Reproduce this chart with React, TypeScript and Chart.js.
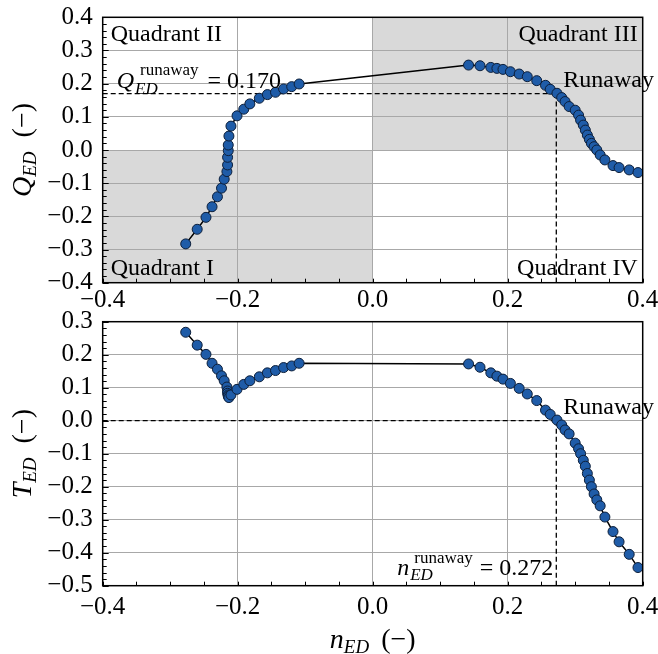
import React, { useEffect, useRef } from "react";
import { Chart, registerables } from "chart.js";

Chart.register(...registerables);

// ---- data ----
const nEDLeft = [-0.277, -0.260, -0.247, -0.238, -0.230, -0.224, -0.220, -0.216, -0.215, -0.215, -0.214, -0.214, -0.213, -0.210, -0.201, -0.191, -0.182, -0.168, -0.156, -0.144, -0.132, -0.120, -0.109];
const QEDLeft = [-0.283, -0.239, -0.203, -0.171, -0.141, -0.115, -0.088, -0.065, -0.045, -0.022, -0.002, 0.015, 0.042, 0.072, 0.103, 0.123, 0.139, 0.156, 0.167, 0.174, 0.184, 0.191, 0.199];
const TEDLeft = [0.268, 0.229, 0.201, 0.174, 0.156, 0.136, 0.121, 0.102, 0.090, 0.083, 0.078, 0.074, 0.070, 0.078, 0.095, 0.110, 0.121, 0.133, 0.145, 0.152, 0.161, 0.166, 0.174];

const nEDRight = [0.142, 0.159, 0.175, 0.184, 0.193, 0.204, 0.217, 0.229, 0.243, 0.256, 0.263, 0.273, 0.280, 0.285, 0.291, 0.300, 0.305, 0.308, 0.312, 0.315, 0.318, 0.321, 0.324, 0.328, 0.332, 0.337, 0.344, 0.356, 0.365, 0.380, 0.393];
const QEDRight = [0.256, 0.254, 0.249, 0.246, 0.243, 0.236, 0.229, 0.221, 0.209, 0.195, 0.183, 0.171, 0.158, 0.146, 0.131, 0.120, 0.105, 0.090, 0.075, 0.060, 0.045, 0.032, 0.020, 0.010, 0.000, -0.015, -0.030, -0.047, -0.053, -0.060, -0.068];
const TEDRight = [0.172, 0.162, 0.145, 0.135, 0.126, 0.113, 0.098, 0.081, 0.061, 0.032, 0.019, 0.002, -0.013, -0.028, -0.040, -0.068, -0.085, -0.100, -0.120, -0.138, -0.160, -0.180, -0.200, -0.222, -0.240, -0.258, -0.292, -0.336, -0.367, -0.405, -0.445];

const runawayN = 0.272;
const runawayQ = 0.170;
const runawayT = 0.0;

const xRange = [-0.4, 0.4];
const qRange = [-0.4, 0.4];
const tRange = [-0.5, 0.3];

const SERIF = '"Liberation Serif", "Times New Roman", serif';
const TICK_FONT = 25;

const fmt = (v: number) => {
  const s = Math.abs(v) < 1e-9 ? "0.0" : Number(v).toFixed(1);
  return s.replace("-", "\u2212");
};

type StackItem = { t: string; font: string; dy: number; dx?: number };
type Seg =
  | { t: string; font: string; dy?: number }
  | { stack: StackItem[] }
  | { gap: number };

function segWidth(ctx: CanvasRenderingContext2D, s: any): number {
  if (s.gap !== undefined) return s.gap;
  if (s.stack) {
    let m = 0;
    for (const p of s.stack) {
      ctx.font = p.font;
      m = Math.max(m, ctx.measureText(p.t).width + (p.dx || 0));
    }
    return m;
  }
  ctx.font = s.font;
  return ctx.measureText(s.t).width;
}

function drawRich(ctx: CanvasRenderingContext2D, segs: Seg[], x: number, y: number, align: "left" | "right" | "center") {
  const widths = segs.map((s) => segWidth(ctx, s));
  const total = widths.reduce((a, b) => a + b, 0);
  let cx = align === "left" ? x : align === "right" ? x - total : x - total / 2;
  ctx.textAlign = "left";
  ctx.textBaseline = "alphabetic";
  ctx.fillStyle = "#000";
  segs.forEach((s: any, i) => {
    if (s.stack) {
      for (const p of s.stack) {
        ctx.font = p.font;
        ctx.fillText(p.t, cx + (p.dx || 0), y + p.dy);
      }
    } else if (s.t !== undefined) {
      ctx.font = s.font;
      ctx.fillText(s.t, cx, y + (s.dy || 0));
    }
    cx += widths[i];
  });
}

type Cfg = {
  ys: number[];
  yRange: number[];
  topPad: number;
  xAxisH: number;
  xTickPad: number;
  yLetter: string;
  shade: boolean;
  refY: number;
  bottomChart: boolean;
};

function makeChart(canvas: HTMLCanvasElement, cfg: Cfg) {
  const nAll = [...nEDLeft, ...nEDRight];
  const pts = nAll.map((x, i) => ({ x, y: cfg.ys[i] }));

  const overlay = {
    id: "overlay",
    beforeDraw(chart: any) {
      const { ctx, chartArea: a, scales } = chart;
      const xs = scales.x, ys = scales.y;
      ctx.save();
      ctx.fillStyle = "#fff";
      ctx.fillRect(0, 0, chart.width, chart.height);
      if (cfg.shade) {
        ctx.fillStyle = "#d9d9d9";
        const x0 = xs.getPixelForValue(0);
        const y0 = ys.getPixelForValue(0);
        ctx.fillRect(a.left, y0, x0 - a.left, a.bottom - y0);
        ctx.fillRect(x0, a.top, a.right - x0, y0 - a.top);
      }
      ctx.restore();
    },
    beforeDatasetsDraw(chart: any) {
      const { ctx, chartArea: a, scales } = chart;
      const xs = scales.x, ys = scales.y;
      const xr = xs.getPixelForValue(runawayN);
      const yr = ys.getPixelForValue(cfg.refY);
      ctx.save();
      ctx.strokeStyle = "#000";
      ctx.lineWidth = 1.3;
      ctx.setLineDash([5, 3]);
      ctx.beginPath();
      ctx.moveTo(a.left, yr);
      ctx.lineTo(xr, yr);
      ctx.moveTo(xr, yr);
      ctx.lineTo(xr, a.bottom);
      ctx.stroke();
      ctx.restore();
    },
    afterDraw(chart: any) {
      const { ctx, chartArea: a, scales } = chart;
      const xs = scales.x, ys = scales.y;
      ctx.save();
      // minor ticks
      ctx.strokeStyle = "#000";
      ctx.lineWidth = 1;
      ctx.beginPath();
      for (let k = -8; k <= 8; k++) {
        const px = Math.round(xs.getPixelForValue(k * 0.05)) + 0.5;
        ctx.moveTo(px, a.bottom);
        ctx.lineTo(px, a.bottom - 4);
      }
      const kMin = Math.round(cfg.yRange[0] / 0.02);
      const kMax = Math.round(cfg.yRange[1] / 0.02);
      for (let k = kMin; k <= kMax; k++) {
        const py = Math.round(ys.getPixelForValue(k * 0.02)) + 0.5;
        const len = k % 5 === 0 ? 6 : 4;
        ctx.moveTo(a.left, py);
        ctx.lineTo(a.left + len, py);
      }
      ctx.stroke();
      // frame
      ctx.lineWidth = 1.5;
      ctx.strokeRect(a.left, a.top, a.right - a.left, a.bottom - a.top);

      const xr = xs.getPixelForValue(runawayN);
      const yr = ys.getPixelForValue(cfg.refY);
      const f24 = `24px ${SERIF}`;
      const i24 = `italic 24px ${SERIF}`;
      const s17 = `17px ${SERIF}`;
      const i17 = `italic 17px ${SERIF}`;

      // Runaway label
      drawRich(ctx, [{ t: "Runaway", font: f24 }], xr + 7, yr - 7, "left");

      if (!cfg.bottomChart) {
        drawRich(ctx, [{ t: "Quadrant II", font: f24 }], a.left + 8, a.top + 24, "left");
        drawRich(ctx, [{ t: "Quadrant I", font: f24 }], a.left + 8, a.bottom - 8, "left");
        drawRich(ctx, [{ t: "Quadrant III", font: f24 }], a.right - 5, a.top + 24, "right");
        drawRich(ctx, [{ t: "Quadrant IV", font: f24 }], a.right - 5, a.bottom - 8, "right");
        drawRich(
          ctx,
          [
            { t: "Q", font: i24 },
            { gap: 1 },
            { stack: [ { t: "runaway", font: s17, dy: -13, dx: 5 }, { t: "ED", font: i17, dy: 6 } ] },
            { gap: 9 },
            { t: "= " + runawayQ.toFixed(3), font: f24 },
          ],
          a.left + 14,
          yr - 6,
          "left"
        );
      } else {
        drawRich(
          ctx,
          [
            { t: "n", font: i24 },
            { gap: 1 },
            { stack: [ { t: "runaway", font: s17, dy: -12, dx: 4 }, { t: "ED", font: i17, dy: 5 } ] },
            { gap: 7 },
            { t: "= " + runawayN.toFixed(3), font: f24 },
          ],
          xr - 3,
          a.bottom - 11,
          "right"
        );
        // x axis title
        drawRich(
          ctx,
          [
            { t: "n", font: `italic 28px ${SERIF}` },
            { t: "ED", font: `italic 19px ${SERIF}`, dy: 5 },
            { gap: 12 },
            { t: "(\u2212)", font: `28px ${SERIF}` },
          ],
          (a.left + a.right) / 2,
          chart.height - 6,
          "center"
        );
      }
      // y axis title (rotated)
      ctx.save();
      ctx.translate(31, (a.top + a.bottom) / 2);
      ctx.rotate(-Math.PI / 2);
      drawRich(
        ctx,
        [
          { t: cfg.yLetter, font: `italic 28px ${SERIF}` },
          { t: "ED", font: `italic 19px ${SERIF}`, dy: 5 },
          { gap: 14 },
          { t: "(\u2212)", font: `28px ${SERIF}` },
        ],
        0,
        0,
        "center"
      );
      ctx.restore();
      ctx.restore();
    },
  };

  return new Chart(canvas, {
    type: "scatter",
    data: {
      datasets: [
        {
          data: pts,
          showLine: true,
          borderColor: "#000",
          borderWidth: 1.5,
          pointRadius: 5,
          pointBackgroundColor: "#1f5ca8",
          pointBorderColor: "#0d1f3a",
          pointBorderWidth: 1,
          tension: 0,
        },
      ],
    },
    options: {
      animation: false,
      responsive: false,
      maintainAspectRatio: false,
      devicePixelRatio: 1,
      layout: { padding: { top: cfg.topPad, right: 15.3, left: 0, bottom: 0 } },
      plugins: { legend: { display: false }, tooltip: { enabled: false } },
      scales: {
        x: {
          type: "linear",
          min: xRange[0],
          max: xRange[1],
          ticks: {
            stepSize: 0.2,
            padding: cfg.xTickPad,
            autoSkip: false,
            color: "#000",
            font: { family: SERIF, size: TICK_FONT },
            callback: (v: any) => fmt(Number(v)),
            maxRotation: 0,
          },
          grid: { color: "#a8a8a8", lineWidth: 1, drawTicks: false },
          border: { display: false },
          afterFit: (s: any) => {
            s.height = cfg.xAxisH;
            s.paddingLeft = 0;
            s.paddingRight = 0;
            s.paddingTop = 0;
            s.paddingBottom = 0;
          },
        },
        y: {
          type: "linear",
          min: cfg.yRange[0],
          max: cfg.yRange[1],
          ticks: {
            stepSize: 0.1,
            padding: 10,
            autoSkip: false,
            color: "#000",
            font: { family: SERIF, size: TICK_FONT },
            callback: (v: any) => fmt(Number(v)),
          },
          grid: { color: "#a8a8a8", lineWidth: 1, drawTicks: false },
          border: { display: false },
          afterFit: (s: any) => {
            s.width = 102.7;
            s.paddingLeft = 0;
            s.paddingRight = 0;
            s.paddingTop = 0;
            s.paddingBottom = 0;
          },
        },
      },
    },
    plugins: [overlay],
  } as any);
}

export default function App() {
  const topRef = useRef<HTMLCanvasElement>(null);
  const botRef = useRef<HTMLCanvasElement>(null);

  useEffect(() => {
    const c1 = makeChart(topRef.current!, {
      ys: [...QEDLeft, ...QEDRight],
      yRange: qRange,
      topPad: 17.3,
      xAxisH: 310 - 282.7,
      xTickPad: 3,
      yLetter: "Q",
      shade: true,
      refY: runawayQ,
      bottomChart: false,
    });
    const c2 = makeChart(botRef.current!, {
      ys: [...TEDLeft, ...TEDRight],
      yRange: tRange,
      topPad: 11.7,
      xAxisH: 344 - 275.7,
      xTickPad: 7,
      yLetter: "T",
      shade: false,
      refY: runawayT,
      bottomChart: true,
    });
    return () => {
      c1.destroy();
      c2.destroy();
    };
  }, []);

  return (
    <div style={{ position: "absolute", left: 0, top: 0, width: 658, height: 654, background: "#fff" }}>
      <canvas ref={topRef} width={658} height={310} style={{ position: "absolute", left: 0, top: 0, width: 658, height: 310 }} />
      <canvas ref={botRef} width={658} height={344} style={{ position: "absolute", left: 0, top: 310, width: 658, height: 344 }} />
    </div>
  );
}
